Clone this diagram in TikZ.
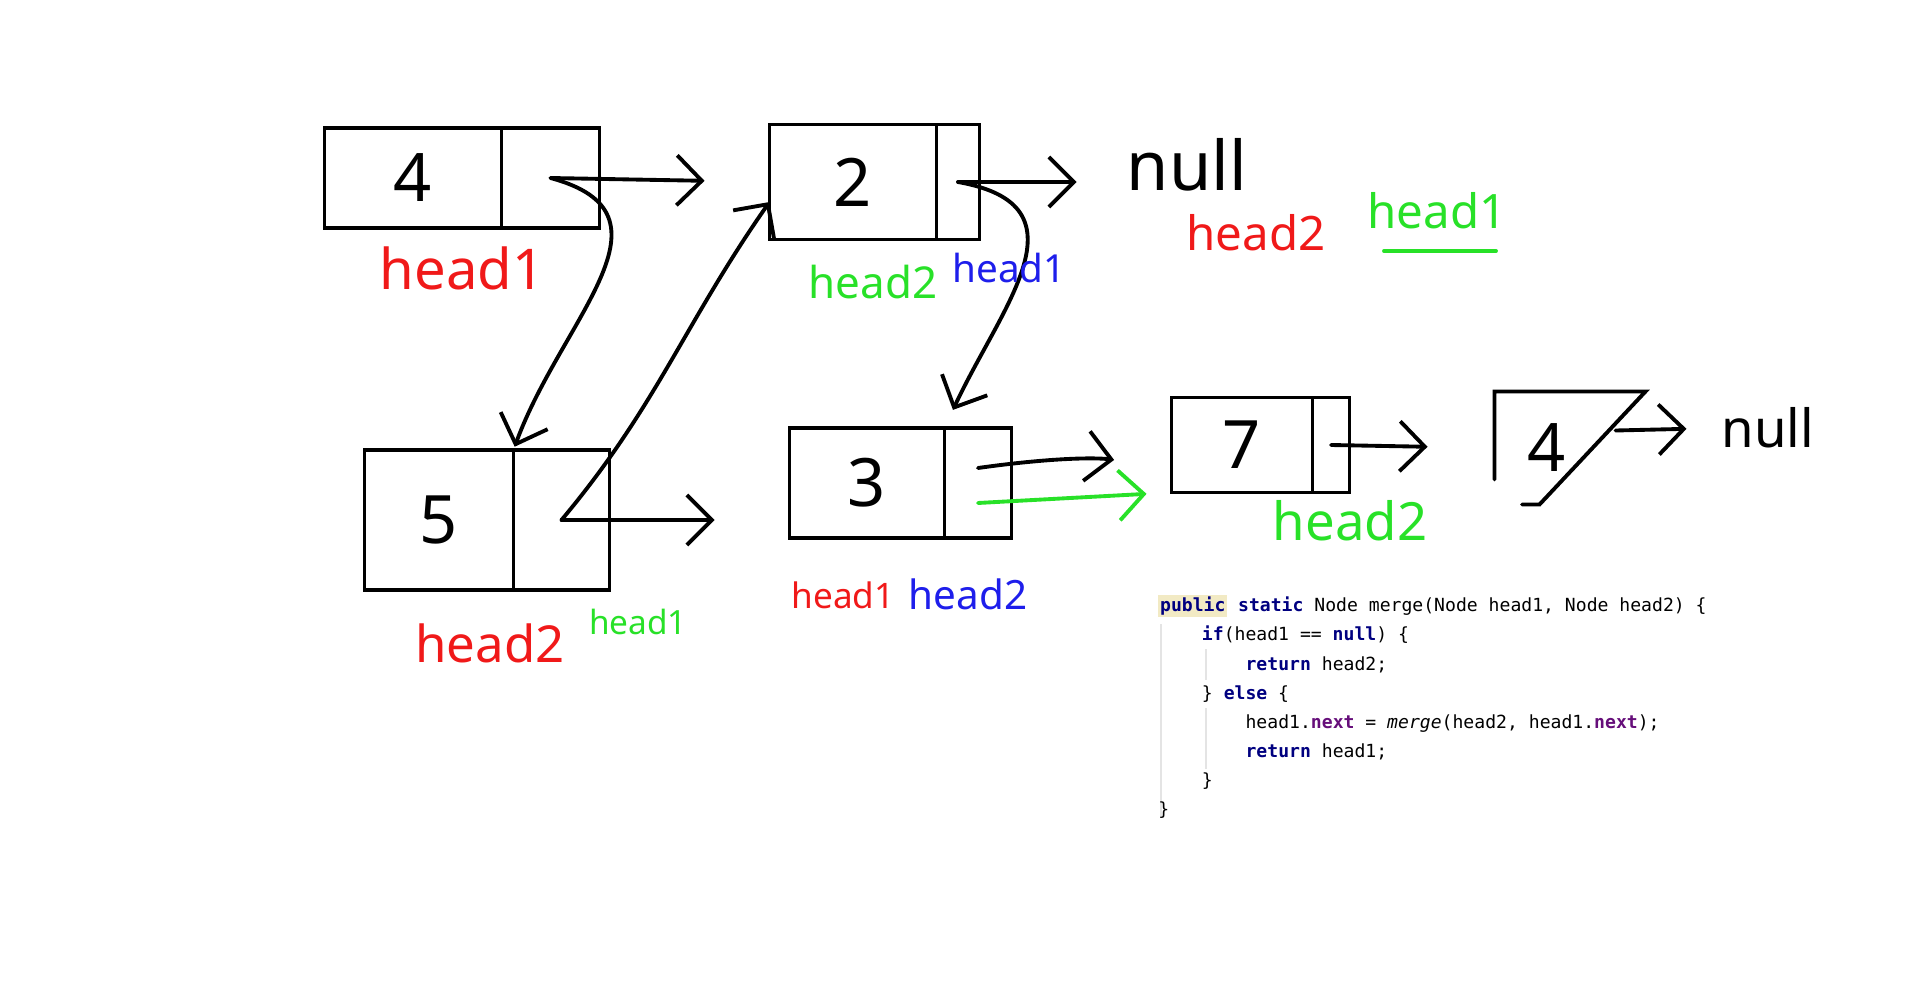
\documentclass[tikz,border=0pt]{standalone}
\usepackage{fontspec}
\setmainfont{Noto Sans}
\setmonofont{DejaVu Sans Mono}
\usetikzlibrary{positioning,arrows.meta}
\definecolor{handred}{RGB}{240,25,25}
\definecolor{handgreen}{RGB}{40,225,40}
\definecolor{handblue}{RGB}{30,30,235}
\definecolor{kwnavy}{RGB}{0,0,128}
\definecolor{fieldpurple}{RGB}{102,14,122}
\definecolor{pubbg}{RGB}{242,234,196}
\definecolor{guide}{RGB}{228,228,228}
\newcommand{\kw}[1]{\textbf{\color{kwnavy}#1}}
\newcommand{\fld}[1]{\textbf{\color{fieldpurple}#1}}
\newcommand{\ind}{\hspace*{2.41em}}
\begin{document}
\begin{tikzpicture}[x=0.02cm, y=-0.02cm,
    cell/.style={draw, line width=2.2pt, rectangle, outer sep=0pt, inner sep=0pt,
        font=\fontsize{38}{38}\selectfont},
    tag/.style={font=\fontsize{#1}{#1}\selectfont, inner sep=0pt},
    link/.style={line width=2.2pt, line cap=round, -{Straight Barb[length=5mm,width=10mm]}},
]
\useasboundingbox (0,0) rectangle (1920,997);

% top row
\node[cell, minimum width=3.54cm, minimum height=2cm] (n4) at (413,178) {4};
\node[cell, minimum width=1.96cm, minimum height=2cm, right=0pt of n4] (n4p) {};
\node[cell, minimum width=3.34cm, minimum height=2.3cm] (n2) at (853,182) {2};
\node[cell, minimum width=0.86cm, minimum height=2.3cm, right=0pt of n2] (n2p) {};
\node[tag=39] (null1) at (1187,165) {null};

% bottom row
\node[cell, minimum width=2.98cm, minimum height=2.8cm] (n5) at (439,520) {5};
\node[cell, minimum width=1.92cm, minimum height=2.8cm, right=0pt of n5] (n5p) {};
\node[cell, minimum width=3.1cm, minimum height=2.2cm] (n3) at (867,483) {3};
\node[cell, minimum width=1.34cm, minimum height=2.2cm, right=0pt of n3] (n3p) {};
\node[cell, minimum width=2.82cm, minimum height=1.9cm] (n7) at (1242,445) {7};
\node[cell, minimum width=0.74cm, minimum height=1.9cm, right=0pt of n7] (n7p) {};
\node[cell, draw=none, minimum width=3.02cm, minimum height=2.26cm] (n4b) at (1570,448) {\hspace*{-0.95cm}4};
\draw[line width=2.2pt, line cap=round] ([yshift=0.5cm]n4b.south west) -- (n4b.north west)
    -- (n4b.north east) -- ([xshift=0.9cm]n4b.south west) -- ([xshift=0.55cm]n4b.south west);
\node[tag=30] (null2) at (1768,428) {null};

% pointers
\draw[link, shorten >=1.3cm] (n4p.center) -- (n2.west);
\draw[link, shorten >=2pt] (n4p.center) to[out=-15, in=70, looseness=1.3] (n5p.north west);
\draw[link] (n5p.center) to[out=50, in=235] ([yshift=-0.4cm]n2.west);
\draw[link, shorten >=1.5cm] (n5p.center) -- (n5p.center -| n3.west);
\draw[link, shorten >=1cm] (n2p.center) -- (n2p.center -| null1.west);
\draw[link, shorten >=0.4cm] (n2p.center) to[out=-10, in=65, looseness=1.4] (n3p.north west);
\draw[link, shorten >=1.16cm] ([yshift=0.3cm]n3p.center) to[bend left=8] ([yshift=0.3cm]n3p.center -| n7.west);
\draw[link, handgreen, shorten >=0.5cm] ([yshift=-0.4cm]n3p.center) -- (n7.south west);
\draw[link, shorten >=1.34cm] (n7p.center) -- (n4b.west);
\draw[link, shorten >=0.7cm] ([xshift=-0.6cm,yshift=0.35cm]n4b.east) -- (null2.west);

% names
\node[tag=32, handred] (t4) at (462,268) {head1};
\node[tag=25, handgreen] (t2a) at (873,282) {head2};
\node[tag=22, handblue] (t2b) at (1009,268) {head1};
\node[tag=27, handred] (tn1) at (1256,233) {head2};
\node[tag=27, handgreen] (tn2) at (1437,211) {head1};
\draw[handgreen, line width=2.2pt, line cap=round] (1384,251) -- (1496,251);
\node[tag=29, handred] (t5a) at (490,643) {head2};
\node[tag=19, handgreen] (t5b) at (638,622) {head1};
\node[tag=20, handred] (t3a) at (843,595) {head1};
\node[tag=23, handblue] (t3b) at (968,594) {head2};
\node[tag=30, handgreen] (t7) at (1350,521) {head2};

% code
\draw[guide, line width=0.6pt] (1161,624) -- (1161,818);
\draw[guide, line width=0.6pt] (1206,649) -- (1206,680);
\draw[guide, line width=0.6pt] (1206,708) -- (1206,769);
\node[anchor=north west, inner sep=0pt, align=left,
    font=\ttfamily\fontsize{10.3}{16.6}\selectfont] (code) at (1158,595) {%
{\setlength{\fboxsep}{1pt}\colorbox{pubbg}{\kw{public}}} \kw{static} Node merge(Node head1, Node head2) \{\\
\ind\kw{if}(head1 == \kw{null}) \{\\
\ind\ind\kw{return} head2;\\
\ind\} \kw{else} \{\\
\ind\ind head1.\fld{next} = \textit{merge}(head2, head1.\fld{next});\\
\ind\ind\kw{return} head1;\\
\ind\}\\
\}};
\end{tikzpicture}
\end{document}
